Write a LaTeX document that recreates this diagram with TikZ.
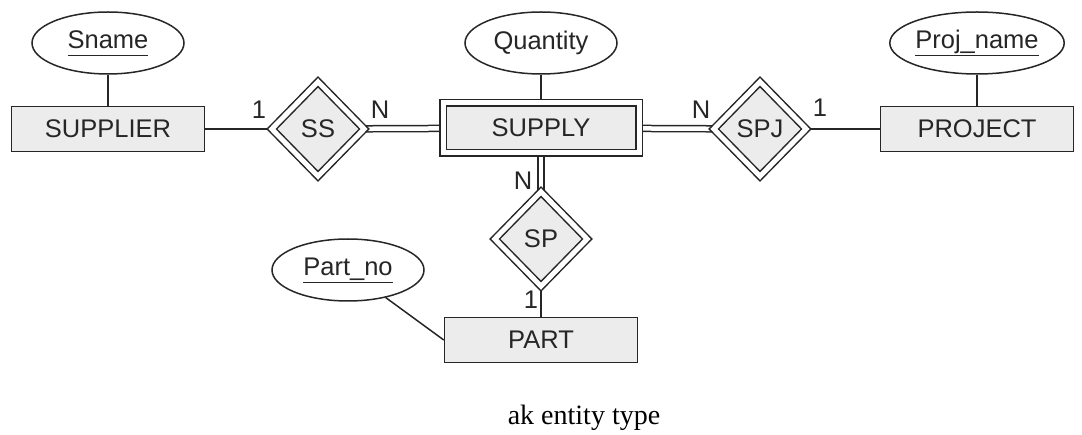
\documentclass[tikz,border=0pt]{standalone}
\usepackage{fontspec}
\setmainfont{Liberation Sans}
\newfontfamily\capfont{Liberation Serif}
\usetikzlibrary{shapes.geometric}
\usetikzlibrary{positioning,backgrounds}

\newcommand{\keyattr}[1]{\underline{\rule[-5pt]{0pt}{0pt}#1}}

\tikzset{
  erfont/.style={font=\fontsize{25.5}{30}\selectfont, text=black!85},
  entity/.style={erfont, draw=black!85, line width=1.5pt, fill=gray!15,
    minimum width=193pt, minimum height=45pt, inner sep=0pt},
  weakentity/.style={entity, double=white, double distance=5pt,
    minimum width=196pt, minimum height=50pt},
  attrib/.style={erfont, ellipse, draw=black!85, line width=1.5pt, fill=white,
    minimum width=152pt, minimum height=62pt, inner sep=0pt},
  idrel/.style={erfont, diamond, draw=black!85, line width=1.5pt, fill=gray!15,
    double=white, double distance=5pt, minimum width=93pt, minimum height=95pt,
    inner sep=0pt},
  link/.style={draw=black!85, line width=1.5pt},
  dlink/.style={link, double=white, double distance=4.5pt},
  card/.style={erfont, inner sep=0pt}
}

\begin{document}
\begin{tikzpicture}[x=1pt, y=-1pt]
\useasboundingbox (0,0) rectangle (1082,435);

% entities
\node[entity] (supplier) at (108,129) {SUPPLIER};
\node[weakentity] (supply) at (541,128) {SUPPLY};
\node[entity] (project) at (977,129) {PROJECT};
\node[entity] (part) at (541,340) {PART};

% identifying relationships
\node[idrel] (ss) at (318,129) {SS};
\node[idrel] (spj) at (760,129) {SPJ};
\node[idrel] (sp) at (541,239) {SP};

% attributes
\node[attrib] (sname) at (108,43) {\keyattr{Sname}};
\node[attrib] (quantity) at (541,43) {Quantity};
\node[attrib] (projname) at (977,43) {\keyattr{Proj\_name}};
\node[attrib] (partno) at (348,270) {\keyattr{Part\_no}};

\begin{scope}[on background layer]
\draw[link] (sname) -- (supplier);
\draw[link] (quantity) -- (supply);
\draw[link] (projname) -- (project);
\draw[link] (partno) -- (part.west);

\draw[link] (supplier) -- (ss);
\draw[dlink] (ss) -- (supply);
\draw[dlink] (supply) -- (spj);
\draw[link] (spj) -- (project);
\draw[dlink] (supply) -- (sp);
\draw[link] (sp) -- (part);
\end{scope}

% cardinalities
\node[card] (c1) at (259,110) {1};
\node[card] (c2) at (380,110) {N};
\node[card] (c3) at (701,110) {N};
\node[card] (c4) at (820,108) {1};
\node[card] (c5) at (523,181) {N};
\node[card] (c6) at (531,300) {1};

\node[font=\capfont\fontsize{28}{32}\selectfont] (caption) at (584,418) {ak entity type};
\end{tikzpicture}
\end{document}
